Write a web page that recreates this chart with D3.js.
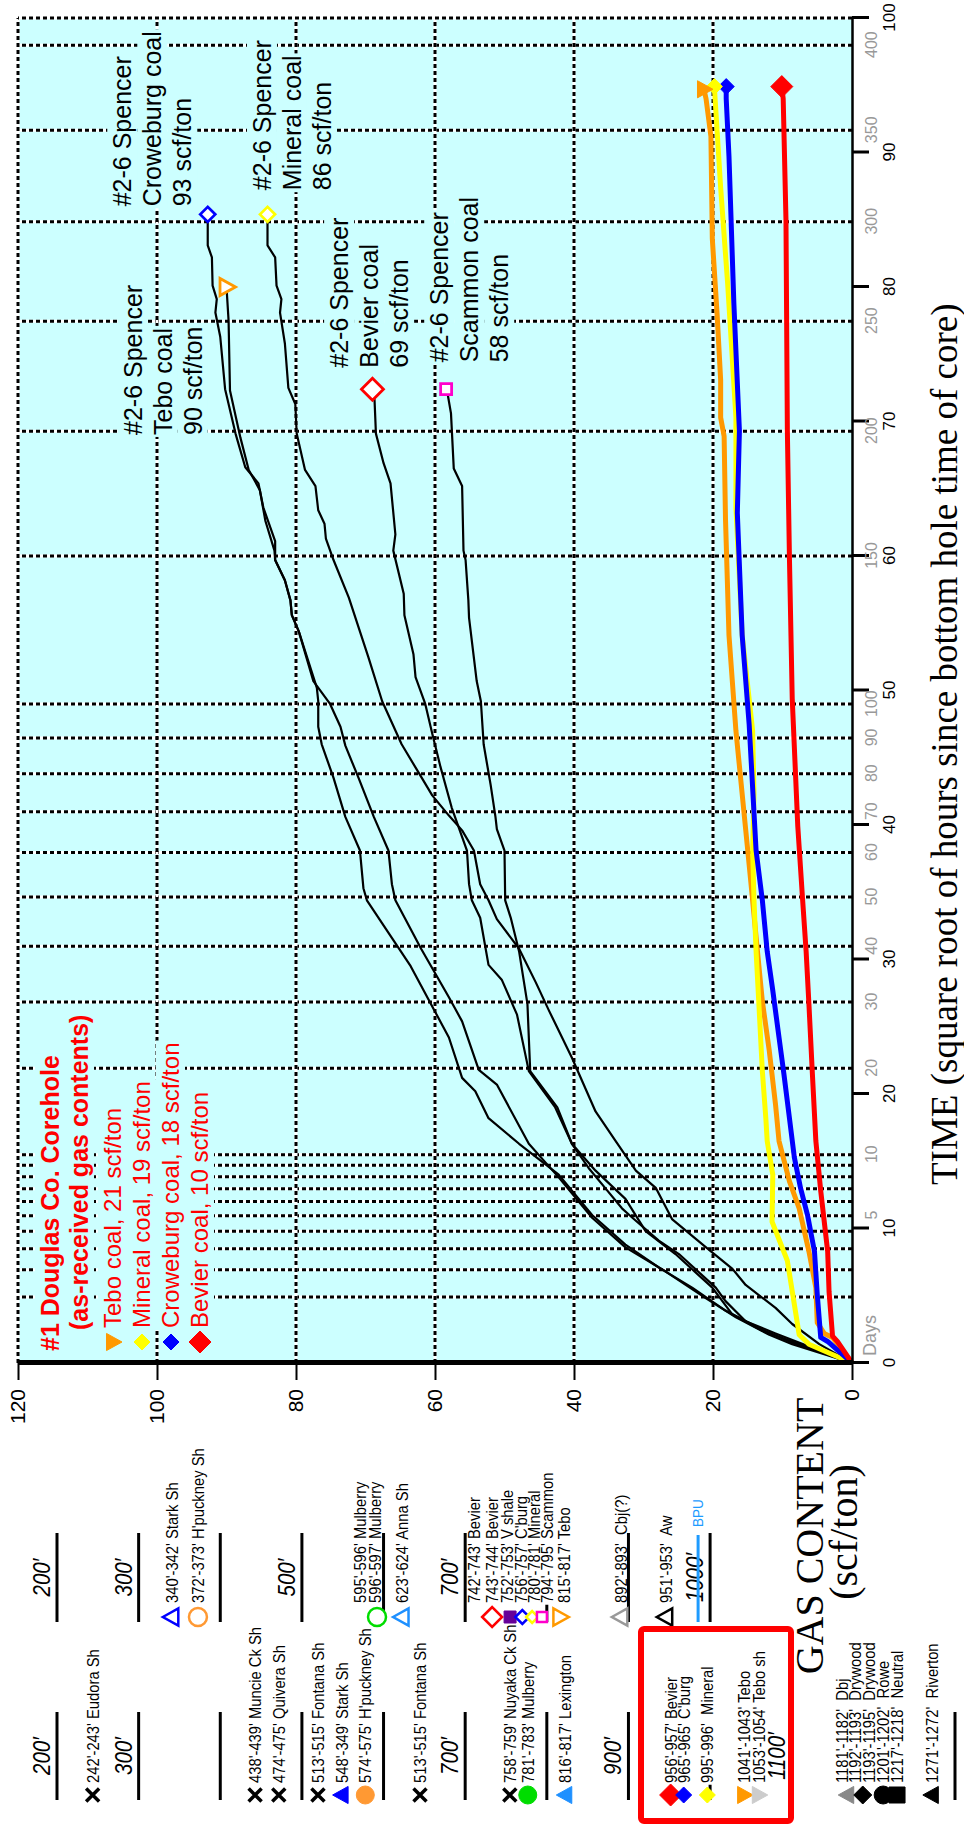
<!DOCTYPE html>
<html>
<head>
<meta charset="utf-8">
<script src="https://cdn.jsdelivr.net/npm/d3@7"></script>
<style>
  body { margin: 0; background: #fff; }
  svg { display: block; }
  text { white-space: pre; }
</style>
</head>
<body>
<svg id="chart" width="964" height="1825"></svg>
<script>
// ── Axis / grid values ────────────────────────────────────────────────────
const timeTicks = [0, 10, 20, 30, 40, 50, 60, 70, 80, 90, 100];       // sqrt(hours)
const gasTicks  = [0, 20, 40, 60, 80, 100, 120];                      // scf/ton
const dayLabels = [5, 10, 20, 30, 40, 50, 60, 70, 80, 90, 100, 150, 200, 250, 300, 350, 400];
const dayGrid   = [1, 2, 3, 4, 5, 6, 7, 8, 9, 10, 20, 30, 40, 50, 60, 70, 80, 90, 100,
                   150, 200, 250, 300, 350, 400];
const gasGrid   = [20, 40, 60, 80, 100];

// ── #2-6 Spencer desorption curves  [sqrt hours, scf/ton] ────────────────
const spencerCroweburg = [[0,0],[1.0,5.7],[1.5,8.6],[2.6,13.4],[3.9,18.2],[5.6,23.0],[7.1,27.8],[8.8,32.6],
  [11.0,37.4],[14.0,42.2],[16.3,47.9],[18.2,52.3],[20.2,54.2],[21.2,56.1],[24.2,58.0],[29.5,63.5],
  [34.4,69.8],[35.3,70.3],[38.1,70.8],[40.6,72.9],[43.5,74.6],[46.0,76.3],[47.3,76.8],[49.2,76.8],
  [50.2,77.0],[54.4,79.6],[55.6,80.6],[56.7,80.8],[58.2,81.6],[59.7,83.0],[61.1,83.0],[63.6,84.7],
  [65.4,85.4],[66.6,87.3],[69.1,88.7],[72.4,90.2],[76.3,90.9],[78.1,91.6],[79.1,91.4],[80.1,92.0],
  [82.2,92.1],[83.1,92.7],[85.4,92.7]];
const spencerTebo = [[0,0],[1.4,8.6],[2.1,11.9],[3.4,16.7],[4.8,21.0],[6.8,26.8],[8.6,32.6],[10.8,37.4],
  [13.8,42.2],[16.3,46.5],[20.7,51.1],[21.8,53.7],[25.4,56.1],[27.2,58.0],[30.8,62.0],[34.4,65.7],
  [35.6,66.2],[38.1,66.7],[40.6,68.8],[43.5,71.0],[45.9,72.9],[47.3,73.6],[49.0,75.1],[50.7,77.5],
  [54.4,79.6],[55.6,80.6],[56.7,80.8],[58.2,81.6],[59.7,83.0],[60.4,83.1],[62.6,84.4],[64.9,85.2],
  [66.4,86.8],[68.8,88.0],[72.3,89.5],[77.5,89.7],[80.0,90.0]];
const spencerMineral = [[0,0],[1.4,4.7],[2.9,8.6],[4.1,11.0],[5.8,15.3],[7.0,17.2],[8.6,21.0],[10.7,25.9],
  [13.0,28.2],[14.3,31.1],[16.5,34.0],[18.7,36.9],[22.7,40.3],[26.2,43.6],[28.3,45.5],[30.8,47.9],
  [33.0,51.1],[34.4,52.3],[35.6,53.5],[38.1,54.4],[39.6,56.1],[40.7,58.0],[42.2,60.4],[43.5,61.9],
  [46.0,64.8],[49.2,67.6],[52.5,69.6],[56.9,72.4],[59.7,74.6],[61.3,75.7],[62.4,75.9],[63.4,76.8],
  [65.2,77.2],[66.4,78.7],[69.1,79.9],[71.3,80.1],[72.5,81.1],[75.8,81.6],[78.1,82.3],[79.1,82.1],
  [80.1,82.8],[82.2,83.0],[83.1,84.1],[85.4,84.1]];
const spencerBevier = [[0,0],[1.6,8.6],[2.4,12.9],[3.6,17.2],[5.6,20.1],[8.1,25.4],[9.8,29.7],[12.2,32.6],
  [14.3,36.9],[16.3,40.3],[19.0,42.7],[21.7,46.5],[25.9,48.2],[28.5,50.4],[29.6,52.3],[33.1,53.5],
  [34.4,54.7],[35.6,55.1],[38.1,55.4],[41.3,57.6],[44.3,59.2],[46.8,60.4],[49.0,61.4],[51.0,62.8],
  [52.7,63.1],[55.6,64.4],[57.2,64.5],[60.4,66.0],[61.6,65.7],[65.4,66.4],[66.9,67.4],[69.1,68.5],
  [71.6,68.7],[72.4,69.0]];
const spencerScammon = [[0,0],[2.2,11.0],[3.1,15.3],[4.6,18.2],[5.6,19.6],[8.1,24.9],[9.1,27.8],[10.8,31.6],
  [11.5,33.1],[13.0,35.5],[14.5,37.9],[16.3,40.3],[19.0,42.4],[21.7,46.3],[26.7,46.7],[30.6,47.9],
  [33.1,49.1],[34.4,49.9],[38.1,50.0],[39.7,51.1],[40.6,51.3],[43.0,52.0],[46.0,53.0],[49.2,53.4],
  [50.7,54.0],[55.4,55.1],[56.7,55.2],[59.7,55.6],[60.4,55.9],[65.2,56.1],[66.5,57.3],[70.6,57.7],
  [72.1,58.2],[72.4,58.4]];

// ── #1 Douglas Co. corehole (as-received) ────────────────────────────────
const douglasTebo = [[0,0],[1.9,2.8],[2.2,4.0],[3.0,5.0],[5.6,5.2],[8.3,6.2],[11.5,7.6],[13.5,9.0],
  [16.5,10.5],[19.2,11.0],[23.2,11.9],[26.9,12.9],[30.6,13.6],[34.4,14.3],[38.1,15.0],[47.0,16.7],
  [54.1,17.7],[62.7,18.2],[68.9,18.4],[70.3,18.9],[73.1,18.9],[77.9,19.4],[83.6,20.1],[91.2,20.3],
  [94.0,21.0],[94.7,21.3]];
const douglasMineral = [[0,0],[1.4,6.2],[2.1,7.6],[7.6,9.3],[10.5,11.5],[14.0,11.4],[16.5,12.2],[18.2,12.4],
  [21.7,12.9],[26.7,13.4],[30.6,13.8],[34.4,14.1],[38.1,14.3],[42.3,14.1],[47.0,14.3],[54.1,15.8],
  [63.6,16.7],[70.3,16.7],[80.3,17.9],[87.4,18.9],[94.0,19.7],[94.9,19.8]];
const douglasCroweburg = [[0,0],[1.6,3.5],[1.9,4.5],[5.1,5.0],[8.3,5.4],[11.0,6.4],[13.0,7.4],[15.3,8.3],
  [18.2,9.0],[21.5,9.8],[24.2,10.5],[27.7,11.4],[30.6,12.2],[34.4,12.9],[38.1,13.8],[40.9,14.1],
  [47.5,14.8],[54.1,15.8],[63.2,16.5],[69.3,16.2],[78.8,17.0],[89.7,17.7],[94.0,18.1],[94.9,18.1]];
const douglasBevier = [[0,0],[1.6,2.1],[2.0,2.8],[5.3,3.3],[8.3,3.5],[12.8,4.5],[16.5,5.2],[21.5,5.7],
  [26.7,6.2],[30.6,6.6],[34.4,7.1],[39.9,7.8],[49.4,8.6],[59.8,9.0],[69.3,9.3],[85.0,9.5],[94.0,9.9],
  [94.9,10.1]];

// ── Series styling ────────────────────────────────────────────────────────
const spencerSeries = [
  { data: spencerCroweburg, shape: 'diamond',  color: '#0000ff', r: 7.5,
    label: ['#2-6 Spencer', 'Croweburg coal', '93 scf/ton'], at: [86.0, 103.7] },
  { data: spencerTebo,      shape: 'tri-down', color: '#ff9900', r: 9,
    label: ['#2-6 Spencer', 'Tebo coal', '90 scf/ton'],      at: [69.0, 102.2] },
  { data: spencerMineral,   shape: 'diamond',  color: '#ffff00', r: 7.5,
    label: ['#2-6 Spencer', 'Mineral coal', '86 scf/ton'],   at: [87.2, 83.6] },
  { data: spencerBevier,    shape: 'diamond',  color: '#ff0000', r: 11,
    label: ['#2-6 Spencer', 'Bevier coal', '69 scf/ton'],    at: [74.0, 72.5] },
  { data: spencerScammon,   shape: 'square',   color: '#ff00cc', r: 5.5,
    label: ['#2-6 Spencer', 'Scammon coal', '58 scf/ton'],   at: [74.4, 58.1] },
];
const douglasSeries = [
  { data: douglasBevier,    shape: 'diamond',  color: '#ff0000', r: 11,  name: 'Bevier coal, 10 scf/ton' },
  { data: douglasCroweburg, shape: 'diamond',  color: '#0000ff', r: 8,   name: 'Croweburg coal, 18 scf/ton' },
  { data: douglasMineral,   shape: 'diamond',  color: '#ffff00', r: 8,   name: 'Mineral coal, 19 scf/ton' },
  { data: douglasTebo,      shape: 'tri-down', color: '#ff9900', r: 9,   name: 'Tebo coal, 21 scf/ton' },
];
const douglasLegendOrder = [3, 2, 1, 0];

// ── Core-depth legend (slot = depth position on the column, ft) ──────────
const depthBarsA   = [200, 300, 400, 500, 600, 700, 800, 900, 1000];
const depthBarsB   = [200, 300, 400, 500, 600, 700, 800, 900, 1000, 1100, 1300];
const depthLabelsA = [200, 300, 500, 700, 1000];
const depthLabelsB = [200, 300, 700, 900, 1100];
const coreColA = [
  { slot: 348, text: "340'-342' Stark Sh",      shape: 'tri-up',   color: '#0000ff' },
  { slot: 380, text: "372'-373' H'puckney Sh",  shape: 'circle',   color: '#ff9933' },
  { slot: 578, text: "595'-596' Mulberry" },
  { slot: 597, text: "596'-597' Mulberry",      shape: 'circle',   color: '#00dd00', m: 592 },
  { slot: 630, text: "623'-624' Anna Sh",       shape: 'tri-up',   color: '#1e90ff' },
  { slot: 718, text: "742'-743' Bevier" },
  { slot: 740, text: "743'-744' Bevier",        shape: 'diamond',  color: '#ff0000', r: 10, m: 733 },
  { slot: 759, text: "752'-753' V shale",       shape: 'square',   color: '#660099', r: 6, fill: true, m: 755 },
  { slot: 776, text: "756'-757' C'burg",        shape: 'diamond',  color: '#0000ff', r: 7, m: 770 },
  { slot: 792, text: "780'-781' Mineral",       shape: 'diamond',  color: '#ffff00', r: 6, m: 782 },
  { slot: 808, text: "794'-795' Scammon",       shape: 'square',   color: '#ff00cc', r: 5, m: 794, bg: true },
  { slot: 828, text: "815'-817' Tebo",          shape: 'tri-down', color: '#ff9900', m: 816 },
  { slot: 898, text: "892'-893'  Cbj(?)",       shape: 'tri-up',   color: '#999999' },
  { slot: 953, text: "951'-953'  Aw",           shape: 'tri-up',   color: '#000000' },
];
const coreColB = [
  { slot: 251,  text: "242'-243' Eudora Sh",      shape: 'times' },
  { slot: 450,  text: "438'-439' Muncie Ck Sh",   shape: 'times' },
  { slot: 479,  text: "474'-475' Quivera Sh",     shape: 'times' },
  { slot: 527,  text: "513'-515' Fontana Sh",     shape: 'times' },
  { slot: 556,  text: "548'-349' Stark Sh",       shape: 'tri-up',   color: '#0000ff', fill: true },
  { slot: 585,  text: "574'-575' H'puckney Sh",   shape: 'circle',   color: '#ff9933', fill: true },
  { slot: 652,  text: "513'-515' Fontana Sh",     shape: 'times' },
  { slot: 762,  text: "758'-759' Nuyaka Ck Sh",   shape: 'times' },
  { slot: 784,  text: "781'-783' Mulberry",       shape: 'circle',   color: '#00dd00', fill: true },
  { slot: 830,  text: "816'-817' Lexington",      shape: 'tri-up',   color: '#1e90ff', fill: true },
  { slot: 959,  text: "956'-957' Bevier",         shape: 'diamond',  color: '#ff0000', fill: true, r: 11 },
  { slot: 975,  text: "965'-965' C'burg",         shape: 'diamond',  color: '#0000ff', fill: true, r: 8 },
  { slot: 1004, text: "995'-996'  Mineral",       shape: 'diamond',  color: '#ffff00', fill: true, r: 8, bg: true },
  { slot: 1049, text: "1041'-1043' Tebo",         shape: 'tri-down', color: '#ff9900', fill: true },
  { slot: 1067, text: "1053'-1054' Tebo sh",      shape: 'tri-down', color: '#cccccc', fill: true },
  { slot: 1169, text: "1181'-1182'  Dbj",         shape: 'tri-up',   color: '#888888', fill: true, m: 1168 },
  { slot: 1185, text: "1192'-1193'  Drywood",     shape: 'diamond',  color: '#000000', fill: true, m: 1187 },
  { slot: 1202, text: "1193'-1195'  Drywood",     shape: 'circle',   color: '#000000', fill: true, m: 1212 },
  { slot: 1219, text: "1201'-1202'  Rowe",        shape: 'square',   color: '#000000', fill: true, r: 8, m: 1229 },
  { slot: 1236, text: "1217'-1218'  Neutral" },
  { slot: 1279, text: "1271'-1272'  Riverton",    shape: 'tri-up',   color: '#000000', fill: true },
];

// ── Setup ─────────────────────────────────────────────────────────────────
const SANS  = '"Liberation Sans", Arial, Helvetica, sans-serif';
const SERIF = '"Liberation Serif", "Times New Roman", serif';
const CYAN  = '#ccffff';

const svg = d3.select('#chart');
svg.append('rect').attr('width', 964).attr('height', 1825).attr('fill', '#fff');
// whole figure is drawn landscape and turned a quarter turn counter-clockwise
const g = svg.append('g').attr('transform', 'translate(0,1825) rotate(-90)');

const x = d3.scaleLinear().domain([0, 100]).range([462, 1807]);
const y = d3.scaleLinear().domain([0, 120]).range([852, 18]);
const depthX = d3.scaleLinear().domain([200, 1300]).range([57, 955]);
const dayPos = d => x(Math.sqrt(24 * d));

function shapePath(shape, r) {
  switch (shape) {
    case 'diamond':  return `M0,${-r}L${r},0L0,${r}L${-r},0Z`;
    case 'square':   return `M${-r},${-r}H${r}V${r}H${-r}Z`;
    case 'tri-up':   return `M0,${-r}L${r * 0.95},${r * 0.72}L${-r * 0.95},${r * 0.72}Z`;
    case 'tri-down': return `M0,${r}L${r * 0.95},${-r * 0.72}L${-r * 0.95},${-r * 0.72}Z`;
    case 'circle':   return `M${r},0A${r},${r} 0 1,1 ${-r},0A${r},${r} 0 1,1 ${r},0Z`;
    case 'times':    return `M${-r},${-r}L${r},${r}M${-r},${r}L${r},${-r}`;
  }
}

function marker(parent, shape, cx, cy, r, color, filled, sw = 2.5) {
  parent.append('path')
    .attr('d', shapePath(shape, r))
    .attr('transform', `translate(${cx},${cy})`)
    .attr('fill', shape === 'times' ? 'none' : (filled ? color : '#fff'))
    .attr('stroke', color)
    .attr('stroke-width', shape === 'times' ? 3.5 : (filled ? 1 : sw))
    .attr('stroke-linejoin', 'miter');
}

// text with optional background box (bg box hides the grid behind it)
function boxedText(parent, str, u, v, o) {
  const grp = parent.append('g')
    .attr('transform', `translate(${u},${v})` + (o.sx ? ` scale(${o.sx},1)` : ''));
  const t = grp.append('text')
    .attr('font-family', o.family || SANS)
    .attr('font-size', o.fs)
    .attr('font-weight', o.weight || null)
    .attr('font-style', o.style || null)
    .attr('fill', o.fill || '#000')
    .attr('text-anchor', o.anchor || 'start')
    .text(str);
  if (o.bg) {
    const b = t.node().getBBox();
    const top = o.tight ? -0.74 * o.fs : b.y - 1;
    const bot = o.tight ? 0.2 * o.fs : b.y + b.height + 1;
    grp.insert('rect', 'text')
      .attr('x', b.x - 2).attr('y', top)
      .attr('width', b.width + 4).attr('height', bot - top)
      .attr('fill', o.bg);
  }
  return grp;
}

// ── Plot background + grid ───────────────────────────────────────────────
g.append('rect')
  .attr('x', x(0)).attr('y', y(120))
  .attr('width', x(100) - x(0)).attr('height', y(0) - y(120))
  .attr('fill', CYAN);

const gridG = g.append('g');
function gridLine(x1, y1, x2, y2) {
  gridG.append('line').attr('x1', x1).attr('y1', y1).attr('x2', x2).attr('y2', y2)
    .attr('stroke', '#fff').attr('stroke-width', 3);
  gridG.append('line').attr('x1', x1).attr('y1', y1).attr('x2', x2).attr('y2', y2)
    .attr('stroke', '#000').attr('stroke-width', 3).attr('stroke-dasharray', '4,3');
}
dayGrid.forEach(d => gridLine(dayPos(d), y(0), dayPos(d), y(120)));
gasGrid.forEach(v => gridLine(x(0), y(v), x(100), y(v)));
gridLine(x(0), y(120), x(100), y(120));
gridLine(x(100), y(0), x(100), y(120));

// ── In-plot labels ────────────────────────────────────────────────────────
const labelG = g.append('g');
spencerSeries.forEach(s => {
  s.label.forEach((ln, i) => boxedText(labelG, ln, x(s.at[0]), y(s.at[1]) + i * 30,
    { fs: 25, bg: CYAN }));
});

// Douglas legend block
const lgU = x(0) + 12, lgV = y(120) + 41;
boxedText(labelG, '#1 Douglas Co. Corehole', lgU, lgV,
  { fs: 25, weight: 'bold', fill: '#ff0000', bg: CYAN });
boxedText(labelG, '(as-received gas contents)', lgU + 21, lgV + 29,
  { fs: 25, weight: 'bold', fill: '#ff0000', bg: CYAN });
douglasLegendOrder.forEach((k, i) => {
  const s = douglasSeries[k];
  const v = lgV + 62 + i * 29;
  boxedText(labelG, s.name, lgU + 23, v, { fs: 24, fill: '#ff0000', bg: CYAN });
});

// ── Curves ────────────────────────────────────────────────────────────────
const line = d3.line().x(d => x(d[0])).y(d => y(d[1]));
const curveG = g.append('g').attr('fill', 'none').attr('stroke-linejoin', 'round');
spencerSeries.forEach(s => {
  curveG.append('path').attr('d', line(s.data)).attr('stroke', '#000').attr('stroke-width', 2.2);
});
douglasSeries.slice().reverse().forEach(s => {
  curveG.append('path').attr('d', line(s.data)).attr('stroke', s.color).attr('stroke-width', 5);
});

const markG = g.append('g');
spencerSeries.forEach(s => {
  const p = s.data[s.data.length - 1];
  marker(markG, s.shape, x(p[0]), y(p[1]), s.r, s.color, false, 2.8);
});
douglasSeries.forEach(s => {
  const p = s.data[s.data.length - 1];
  marker(markG, s.shape, x(p[0]), y(p[1]), s.r, s.color, true);
});
douglasLegendOrder.forEach((k, i) => {
  const s = douglasSeries[k];
  marker(markG, s.shape, lgU + 9, lgV + 54 + i * 29, s.r, s.color, true);
});

// ── Axes ──────────────────────────────────────────────────────────────────
g.append('g')
  .attr('transform', `translate(0,${y(0)})`)
  .call(d3.axisBottom(x).tickValues(timeTicks).tickSize(17).tickSizeOuter(0).tickPadding(14))
  .call(a => {
    a.select('.domain').attr('stroke-width', 2.5);
    a.selectAll('.tick line').attr('stroke-width', 3);
    a.selectAll('.tick text').attr('font-size', 17).attr('font-family', SANS).attr('fill', '#000');
  });

g.append('g')
  .attr('transform', `translate(0,${y(0)})`)
  .call(d3.axisBottom(x)
    .tickValues(dayLabels.map(d => Math.sqrt(24 * d)))
    .tickFormat((v, i) => dayLabels[i])
    .tickSize(0).tickPadding(14))
  .call(a => {
    a.select('.domain').remove();
    a.selectAll('.tick text').attr('font-size', 16).attr('font-family', SANS).attr('fill', '#999');
  });
g.append('text')
  .attr('x', x(0) + 7).attr('y', y(0) + 24)
  .attr('font-family', SANS).attr('font-size', 18).attr('fill', '#999')
  .text('Days');

g.append('g')
  .attr('transform', `translate(${x(0)},0)`)
  .call(d3.axisLeft(y).tickValues(gasTicks).tickSize(17).tickSizeOuter(0).tickPadding(9))
  .call(a => {
    a.select('.domain').attr('stroke-width', 5);
    a.selectAll('.tick line').attr('stroke-width', 2);
    a.selectAll('.tick text').attr('font-size', 21).attr('font-family', SANS).attr('fill', '#000');
  });

// axis titles
g.append('text')
  .attr('x', 640).attr('y', 957)
  .attr('font-family', SERIF).attr('font-size', 37)
  .text('TIME (square root of hours since bottom hole time of core)');
g.append('text')
  .attr('x', 289).attr('y', 823).attr('text-anchor', 'middle')
  .attr('font-family', SERIF).attr('font-size', 40)
  .text('GAS CONTENT');
g.append('text')
  .attr('x', 293).attr('y', 857).attr('text-anchor', 'middle')
  .attr('font-family', SERIF).attr('font-size', 40)
  .text('(scf/ton)');

// ── Core-depth legend (left of the plot) ─────────────────────────────────
const coreG = g.append('g');
const colA = { bar: [203, 292], mark: 208, text: 222 };
const colB = { bar: [25, 113],  mark: 30,  text: 42 };

function depthBars(col, bars, labels) {
  bars.forEach(d => coreG.append('line')
    .attr('x1', col.bar[0]).attr('x2', col.bar[1])
    .attr('y1', depthX(d)).attr('y2', depthX(d))
    .attr('stroke', '#000').attr('stroke-width', 3));
  labels.forEach(d => boxedText(coreG, `${d}\u2032`, (col.bar[0] + col.bar[1]) / 2, depthX(d) - 7,
    { fs: 24, style: 'italic', anchor: 'middle', sx: 0.85 }));
}
depthBars(colA, depthBarsA, depthLabelsA);
depthBars(colB, depthBarsB, depthLabelsB);

// BPU marker line through 1000'
coreG.append('line')
  .attr('x1', 203).attr('x2', 290).attr('y1', depthX(1000) - 12).attr('y2', depthX(1000) - 12)
  .attr('stroke', '#1e9bff').attr('stroke-width', 3);
boxedText(coreG, 'BPU', 298, depthX(1000) - 7, { fs: 15, fill: '#1e9bff', sx: 0.9 });

function coreEntries(col, list) {
  list.forEach(e => {
    boxedText(coreG, e.text, col.text, depthX(e.slot),
      { fs: 17, sx: 0.87, bg: e.bg ? '#fff' : null, tight: true });
    if (e.shape) {
      const cy = e.m != null ? depthX(e.m) : depthX(e.slot) - 6;
      marker(coreG, e.shape, col.mark, cy, e.r || (e.shape === 'times' ? 6.5 : 9),
        e.color || '#000', !!e.fill);
    }
  });
}
coreEntries(colA, coreColA);
coreEntries(colB, coreColB);

// red box around the Douglas Co. coal samples
coreG.append('rect')
  .attr('x', 4).attr('y', 641).attr('width', 192).attr('height', 150).attr('rx', 3)
  .attr('fill', 'none').attr('stroke', '#ff0000').attr('stroke-width', 6);
</script>
</body>
</html>
